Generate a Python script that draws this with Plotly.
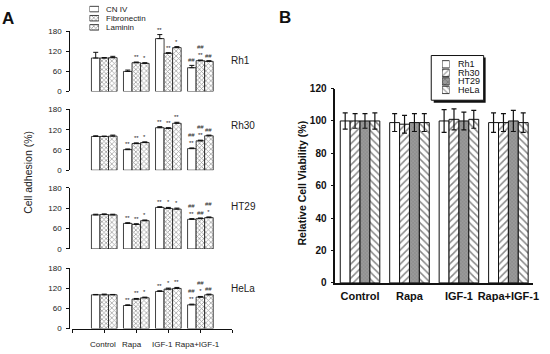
import plotly.graph_objects as go

W, H = 550, 354

# ---------------- data ----------------
groups = ["Control", "Rapa", "IGF-1", "Rapa+IGF-1"]
a_series = ["CN IV", "Fibronectin", "Laminin"]
a_rows = ["Rh1", "Rh30", "HT29", "HeLa"]

rh1_cn = [100, 60, 158, 71]
rh1_fn = [100, 86, 114, 92]
rh1_ln = [101, 84, 131, 90]
rh1_cn_err = [17, 4, 12, 7]
rh1_fn_err = [1.5, 2, 2, 2]
rh1_ln_err = [4, 2, 3, 2]

rh30_cn = [100, 61, 126, 64]
rh30_fn = [100, 79, 124, 87]
rh30_ln = [101, 82, 139, 102]
rh30_cn_err = [2, 2, 3, 2]
rh30_fn_err = [1, 2, 2, 2]
rh30_ln_err = [3, 2, 3, 2]

ht29_cn = [100, 75, 122, 87]
ht29_fn = [101, 72, 119, 89]
ht29_ln = [100, 83, 117, 92]
ht29_cn_err = [2, 2, 2, 2]
ht29_fn_err = [2, 2, 3, 2]
ht29_ln_err = [2, 2, 3, 2]

hela_cn = [101, 69, 111, 71]
hela_fn = [101, 88, 118, 94]
hela_ln = [101, 92, 120, 101]
hela_cn_err = [1, 2, 2, 2]
hela_fn_err = [2, 2, 3, 2]
hela_ln_err = [1, 2, 3, 2]

# significance marks (per row, per series, per group)
rh1_marks = [["", "", "**", "##"], ["", "**", "**", "##<br>**"], ["", "*", "*", "##"]]
rh30_marks = [["", "**", "**", "##<br>**"], ["", "**", "**", "##<br>**"], ["", "*", "**", "##"]]
ht29_marks = [["", "**", "**", "##<br>**"], ["", "**", "*", "##"], ["", "*", "*", "##<br>*"]]
hela_marks = [["", "**", "**", "##<br>**"], ["", "**", "*", "##<br>*"], ["", "*", "**", "##"]]

b_series = ["Rh1", "Rh30", "HT29", "HeLa"]
b_rh1 = [100, 99, 100, 99]
b_rh30 = [100, 98, 101, 99]
b_ht29 = [100, 99, 100, 100]
b_hela = [100, 99, 101, 99]
b_rh1_err = [5, 5.5, 7, 6]
b_rh30_err = [4.5, 5.5, 6.5, 5.5]
b_ht29_err = [4.5, 5.5, 5.5, 6.5]
b_hela_err = [5, 5.5, 5.5, 6]

a_ticks = [0, 60, 120, 180]
b_ticks = [0, 20, 40, 60, 80, 100, 120]

# ---------------- helpers ----------------
def px(x):
    return x / W

def py(y):
    return 1 - y / H

FONT = "Liberation Sans, Arial, sans-serif"
INK = "#222222"

a_styles = [
    dict(color="white", pattern=dict(shape="")),
    dict(color="white", pattern=dict(shape="x", size=3, solidity=0.45, fgcolor="#3a3a3a")),
    dict(color="white", pattern=dict(shape="x", size=3.5, solidity=0.4, fgcolor="#4a4a4a")),
]
b_styles = [
    dict(color="white", pattern=dict(shape="")),
    dict(color="white", pattern=dict(shape="/", size=5, solidity=0.3, fgcolor="#111111")),
    dict(color="#9a9a9a", pattern=dict(shape="x", size=2.5, solidity=0.3, fgcolor="#6a6a6a")),
    dict(color="white", pattern=dict(shape="\\", size=5, solidity=0.3, fgcolor="#111111")),
]

fig = go.Figure()

rows = [
    (rh1_cn, rh1_fn, rh1_ln, rh1_cn_err, rh1_fn_err, rh1_ln_err, rh1_marks, (27, 89)),
    (rh30_cn, rh30_fn, rh30_ln, rh30_cn_err, rh30_fn_err, rh30_ln_err, rh30_marks, (107.5, 170)),
    (ht29_cn, ht29_fn, ht29_ln, ht29_cn_err, ht29_fn_err, ht29_ln_err, ht29_marks, (188, 251)),
    (hela_cn, hela_fn, hela_ln, hela_cn_err, hela_fn_err, hela_ln_err, hela_marks, (271, 333)),
]
row_label_y = [57, 124, 207, 292]
a_label_shift = [-1, -4, -6, -3]

annotations = []
shapes = []
layout = {}
xpos = list(range(len(groups)))

for r, (cn, fn, ln, ecn, efn, eln, marks, (ytop, ybot)) in enumerate(rows):
    n = r + 1
    xa = "x" if n == 1 else f"x{n}"
    ya = "y" if n == 1 else f"y{n}"
    vals = [cn, fn, ln]
    errs = [ecn, efn, eln]
    for s in range(3):
        fig.add_trace(go.Bar(
            x=xpos, y=vals[s], name=a_series[s], xaxis=xa, yaxis=ya,
            marker=dict(color=a_styles[s]["color"], pattern=a_styles[s]["pattern"],
                        line=dict(color="#111111", width=0.8)),
            error_y=dict(type="data", array=errs[s], arrayminus=[0] * 4, symmetric=False,
                         width=2.5, thickness=1, color="#111111"),
            showlegend=False,
        ))
        off = (s - 1) * 0.8 / 3
        for g in range(4):
            if marks[s][g]:
                annotations.append(dict(
                    x=xpos[g] + off, y=vals[s][g] + errs[s][g], xref=xa, yref=ya,
                    text=marks[s][g], showarrow=False, yanchor="bottom", yshift=0,
                    font=dict(family=FONT, size=6, color=INK), align="center",
                ))
    bottom = (n == 4)
    layout["xaxis" if n == 1 else f"xaxis{n}"] = dict(
        domain=[px(73), px(235)], range=[-1, 4], anchor=ya,
        showline=bottom, linecolor="#111111", linewidth=1,
        tickvals=[-1, 0, 1, 2, 3, 4] if bottom else [],
        ticks="outside" if bottom else "", ticklen=3, tickcolor="#111111",
        showticklabels=False,
        showgrid=False, zeroline=False, fixedrange=True,
    )
    layout["yaxis" if n == 1 else f"yaxis{n}"] = dict(
        domain=[py(ybot), py(ytop)], range=[0, 180], anchor="free", position=px(70),
        tickvals=a_ticks, ticks="outside", ticklen=3, tickcolor="#111111",
        showline=True, linecolor="#111111", linewidth=1,
        tickfont=dict(family=FONT, size=8, color=INK), ticklabelstandoff=3,
        showgrid=False, zeroline=False, fixedrange=True,
    )
    annotations.append(dict(
        x=px(232), y=py(row_label_y[r]), xref="paper", yref="paper", text=a_rows[r],
        showarrow=False, xanchor="left", yanchor="middle",
        font=dict(family=FONT, size=10, color=INK),
    ))

# category labels under panel A (bottom axis)
for g in range(4):
    annotations.append(dict(
        x=xpos[g], y=py(349), xref="x4", yref="paper", text=groups[g], showarrow=False,
        xanchor="center", yanchor="middle", xshift=a_label_shift[g],
        font=dict(family=FONT, size=8, color=INK),
    ))

# ---------------- panel B ----------------
b_vals = [b_rh1, b_rh30, b_ht29, b_hela]
b_errs = [b_rh1_err, b_rh30_err, b_ht29_err, b_hela_err]
for s in range(4):
    fig.add_trace(go.Bar(
        x=xpos, y=b_vals[s], name=b_series[s], xaxis="x5", yaxis="y5",
        marker=dict(color=b_styles[s]["color"], pattern=b_styles[s]["pattern"],
                    line=dict(color="#111111", width=1)),
        error_y=dict(type="data", array=b_errs[s], symmetric=True,
                     width=2.5, thickness=1.2, color="#111111"),
        showlegend=False,
    ))

layout["xaxis5"] = dict(
    domain=[px(339), px(539)], range=[-0.5, 3.5], anchor="y5",
    tickvals=xpos, ticktext=groups, ticks="", showline=True, linecolor="#111111", linewidth=1.5,
    tickfont=dict(family=FONT, size=11, color="#111111", weight="bold"), ticklabelstandoff=2,
    tickangle=0, showgrid=False, zeroline=False, fixedrange=True,
)
layout["yaxis5"] = dict(
    domain=[py(286), py(86)], range=[0, 120], anchor="x5",
    tickvals=b_ticks, ticks="outside", ticklen=3, tickcolor="#111111",
    showline=True, linecolor="#111111", linewidth=1.5,
    tickfont=dict(family=FONT, size=10, color="#111111", weight="bold"), ticklabelstandoff=2,
    showgrid=False, zeroline=False, fixedrange=True,
)

# ---------------- legends (swatches on hidden axes) ----------------
a_leg_pos = [0, 1, 2]
fig.add_trace(go.Bar(
    x=[1, 1, 1], y=a_leg_pos, orientation="h", xaxis="x6", yaxis="y6", width=0.6,
    marker=dict(color=[st["color"] for st in a_styles],
                pattern=dict(shape=[st["pattern"]["shape"] for st in a_styles], size=3,
                             solidity=0.45, fgcolor="#3a3a3a"),
                line=dict(color="#111111", width=0.8)),
    showlegend=False, hoverinfo="skip",
))
layout["xaxis6"] = dict(domain=[px(90.5), px(100)], range=[0, 1], visible=False, anchor="y6", fixedrange=True)
layout["yaxis6"] = dict(domain=[py(28), 1], range=[(28 - 4.2) / 9.4, -4.2 / 9.4], visible=False,
                        anchor="x6", fixedrange=True)
for i, name in enumerate(a_series):
    annotations.append(dict(
        x=px(105), y=py(4.2 + 9.4 * i), xref="paper", yref="paper", text=name,
        showarrow=False, xanchor="left", yanchor="middle",
        font=dict(family=FONT, size=8, color=INK),
    ))

b_leg_pos = [0, 1, 2, 3]
fig.add_trace(go.Bar(
    x=[1, 1, 1, 1], y=b_leg_pos, orientation="h", xaxis="x7", yaxis="y7", width=0.85,
    marker=dict(color=[st["color"] for st in b_styles],
                pattern=dict(shape=[st["pattern"]["shape"] for st in b_styles], size=4,
                             solidity=0.3, fgcolor="#222222"),
                line=dict(color="#111111", width=0.8)),
    showlegend=False, hoverinfo="skip",
))
layout["xaxis7"] = dict(domain=[px(447), px(454.5)], range=[0, 1], visible=False, anchor="y7", fixedrange=True)
layout["yaxis7"] = dict(domain=[py(92.5), py(56)], range=[(92.5 - 61) / 8.8, (56 - 61) / 8.8],
                        visible=False, anchor="x7", fixedrange=True)
for i, name in enumerate(b_series):
    annotations.append(dict(
        x=px(461), y=py(61 + 8.8 * i), xref="paper", yref="paper", text=name,
        showarrow=False, xanchor="left", yanchor="middle",
        font=dict(family=FONT, size=9, color="#111111"),
    ))
shapes.append(dict(type="rect", xref="paper", yref="paper", layer="below",
                   x0=px(438.5), x1=px(491), y0=py(100.5), y1=py(54),
                   fillcolor="#111111", line=dict(width=0)))
shapes.append(dict(type="rect", xref="paper", yref="paper", layer="below",
                   x0=px(436), x1=px(489), y0=py(98), y1=py(52),
                   fillcolor="white", line=dict(color="#111111", width=1)))

# ---------------- titles / panel letters ----------------
annotations += [
    dict(x=px(8.5), y=py(14), xref="paper", yref="paper", text="<b>A</b>", showarrow=False,
         xanchor="center", yanchor="middle", font=dict(family=FONT, size=17, color="#111111")),
    dict(x=px(288), y=py(13), xref="paper", yref="paper", text="<b>B</b>", showarrow=False,
         xanchor="center", yanchor="middle", font=dict(family=FONT, size=17, color="#111111")),
    dict(x=px(28), y=py(172), xref="paper", yref="paper", text="Cell adhesion (%)", showarrow=False,
         textangle=-90, xanchor="center", yanchor="middle", font=dict(family=FONT, size=10.5, color=INK)),
    dict(x=px(305), y=py(183), xref="paper", yref="paper", text="<b>Relative Cell Viability (%)</b>",
         showarrow=False, textangle=-90, xanchor="center", yanchor="middle",
         font=dict(family=FONT, size=10.5, color="#111111")),
]

fig.update_layout(
    width=W, height=H, margin=dict(l=0, r=0, t=0, b=0),
    paper_bgcolor="white", plot_bgcolor="white",
    barmode="group", bargap=0.2, bargroupgap=0,
    showlegend=False, annotations=annotations, shapes=shapes,
    **layout,
)

fig.write_html("out.html", config={"displayModeBar": False},
               post_script="document.body.style.margin='0';document.body.style.padding='0';")
